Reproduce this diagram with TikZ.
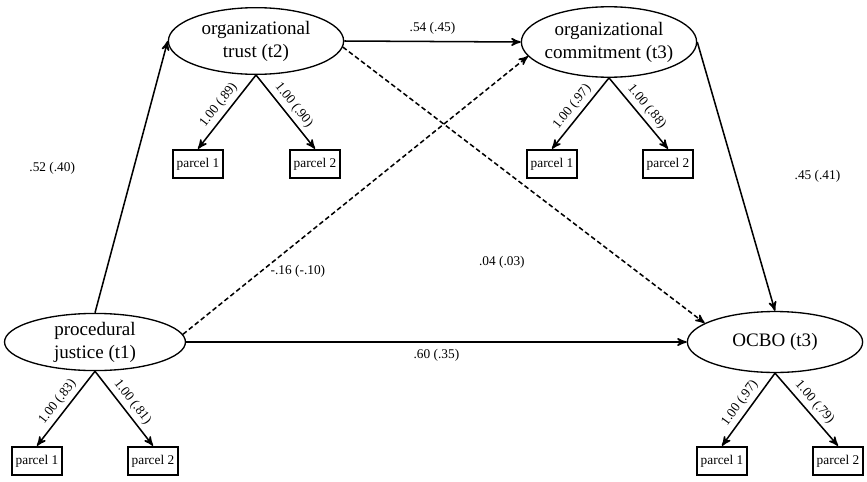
\documentclass[tikz,border=0pt]{standalone}
\usepackage{fontspec}
\setmainfont{Liberation Serif}
\usetikzlibrary{arrows,shapes.geometric,positioning}

\begin{document}
\begin{tikzpicture}[x=0.525pt,y=-0.525pt,->,>=stealth',line width=0.8pt,
    latent/.style={ellipse,draw,line width=0.7pt,align=center,inner xsep=-2pt,inner ysep=0pt,minimum width=92pt,minimum height=35pt},
    parcel/.style={rectangle,draw,line width=1pt,inner sep=1pt,minimum width=26pt,minimum height=15pt,font=\fontsize{7}{8}\selectfont},
    lbl/.style={font=\fontsize{7}{8}\selectfont},
    load/.style={lbl,midway,sloped,above,inner sep=2pt},
    dsh/.style={dash pattern=on 2.5pt off 1.5pt}]
\useasboundingbox (0,0) rectangle (867,481);

\node[latent]                                   (ot)   at (256,41)  {organizational\\trust (t2)};
\node[latent,minimum height=37pt]               (oc)   at (609,42)  {organizational\\commitment (t3)};
\node[latent,minimum width=95pt,minimum height=30pt] (pj) at (95,342) {procedural\\justice (t1)};
\node[latent,minimum height=32pt]               (ocbo) at (775,342) {OCBO (t3)};

% indicators
\node[parcel] (ot1)   at (198,164) {parcel 1};
\node[parcel] (ot2)   at (315,164) {parcel 2};
\node[parcel] (oc1)   at (552,164) {parcel 1};
\node[parcel] (oc2)   at (668,164) {parcel 2};
\node[parcel] (pj1)   at (37,461)  {parcel 1};
\node[parcel] (pj2)   at (153,461) {parcel 2};
\node[parcel] (ocbo1) at (722,461) {parcel 1};
\node[parcel] (ocbo2) at (838,461) {parcel 2};

% structural paths
\path
(pj.north) edge node[lbl,pos=.53,left=27pt] {.52 (.40)} (ot.west)
(ot.east)  edge node[lbl,above] {.54 (.45)} (oc.west)
(oc.east)  edge node[lbl,pos=.5,right=27pt] {.45 (.41)} (ocbo.north)
(pj.east)  edge node[lbl,below] {.60 (.35)} (ocbo.west)
(pj.5)     edge[dsh] node[lbl,pos=.3,below right=4pt and -12pt] {-.16 (-.10)} (oc.190)
(ot.356)   edge[dsh] node[lbl,pos=.78,left=49pt] {.04 (.03)} (ocbo.165);

% loadings
\path
(ot.south)   edge node[load] {1.00 (.89)} (ot1.north)
(ot.south)   edge node[load] {1.00 (.90)} (ot2.north)
(oc.south)   edge node[load] {1.00 (.97)} (oc1.north)
(oc.south)   edge node[load] {1.00 (.88)} (oc2.north)
(pj.south)   edge node[load] {1.00 (.83)} (pj1.north)
(pj.south)   edge node[load] {1.00 (.81)} (pj2.north)
(ocbo.south) edge node[load] {1.00 (.97)} (ocbo1.north)
(ocbo.south) edge node[load] {1.00 (.79)} (ocbo2.north);
\end{tikzpicture}
\end{document}
